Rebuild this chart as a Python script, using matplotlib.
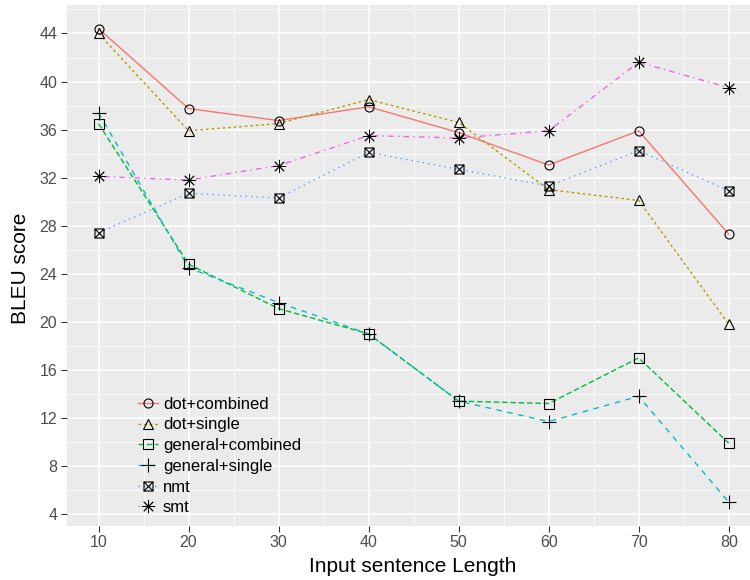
import matplotlib
matplotlib.use("Agg")
import matplotlib.pyplot as plt
from matplotlib.path import Path
import numpy as np

lengths = [10, 20, 30, 40, 50, 60, 70, 80]
dot_combined = [44.4, 37.75, 36.75, 37.9, 35.75, 33.05, 35.9, 27.3]
dot_single = [44.0, 35.9, 36.5, 38.5, 36.6, 31.0, 30.1, 19.8]
general_combined = [36.5, 24.8, 21.1, 19.0, 13.4, 13.2, 17.0, 9.9]
general_single = [37.4, 24.5, 21.6, 19.0, 13.4, 11.7, 13.8, 5.0]
nmt = [27.4, 30.7, 30.3, 34.1, 32.7, 31.3, 34.25, 30.9]
smt = [32.1, 31.8, 33.0, 35.5, 35.3, 35.9, 41.6, 39.5]

series_names = ["dot+combined", "dot+single", "general+combined",
                "general+single", "nmt", "smt"]
y_ticks = [4, 8, 12, 16, 20, 24, 28, 32, 36, 40, 44]

plt.rcParams['font.family'] = ['Liberation Sans', 'DejaVu Sans']

# square with X marker
sqx = Path([(-1, -1), (1, -1), (1, 1), (-1, 1), (-1, -1),
            (-1, -1), (1, 1), (-1, 1), (1, -1)],
           [Path.MOVETO, Path.LINETO, Path.LINETO, Path.LINETO, Path.CLOSEPOLY,
            Path.MOVETO, Path.LINETO, Path.MOVETO, Path.LINETO])

colors = ["#F8766D", "#B79F00", "#00BA38", "#00BFC4", "#619CFF", "#F564E3"]
dashes = [None, (2, 2), (4, 2), (4, 4), (1, 3), (1, 3, 4, 3)]
markers = ['o', '^', 's', '+', sqx, (8, 2, 0)]
msizes = [6.5, 7.5, 6.5, 10, 6.5, 9.5]
mews = [0.8, 0.8, 0.8, 0.8, 0.8, 0.65]
data = [dot_combined, dot_single, general_combined, general_single, nmt, smt]

fig = plt.figure(figsize=(7.5, 5.8), dpi=100)
W, H = 750, 580
left, right, top, bottom = 67, 760.2, 5, 525.7
ax = fig.add_axes([left / W, (H - bottom) / H, (right - left) / W, (bottom - top) / H])
ax.set_facecolor("#EBEBEB")

handles = []
for name, vals, c, d, m, ms, mw in zip(series_names, data, colors, dashes, markers, msizes, mews):
    ln, = ax.plot(lengths, vals, color=c, lw=1.0, zorder=3)
    if d is not None:
        ln.set_dashes(d)
    ax.plot(lengths, vals, linestyle='none', marker=m, markersize=ms,
            markerfacecolor='none', markeredgecolor='black', markeredgewidth=mw, zorder=4)
    h, = ax.plot([], [], color=c, lw=1.0, marker=m, markersize=ms,
                 markerfacecolor='none', markeredgecolor='black', markeredgewidth=mw)
    if d is not None:
        h.set_dashes(d)
    handles.append(h)

ax.set_xlim(6.5, 83.5)
ax.set_ylim(3.03, 46.37)
ax.set_xticks(lengths)
ax.set_yticks(y_ticks)
ax.set_xticks([15, 25, 35, 45, 55, 65, 75], minor=True)
ax.set_yticks([6, 10, 14, 18, 22, 26, 30, 34, 38, 42, 46], minor=True)
ax.grid(which='major', color='white', lw=1.1)
ax.grid(which='minor', color='white', lw=0.55)
ax.set_axisbelow(True)
for s in ax.spines.values():
    s.set_visible(False)
ax.tick_params(which='major', length=4.5, width=0.8, color='#333333',
               labelsize=11.5, labelcolor='#4D4D4D', pad=2.5)
ax.tick_params(which='minor', length=0)

fig.text(413 / W, 1 - 566 / H, "Input sentence Length", ha='center', va='center', fontsize=15)
fig.text(21 / W, 1 - 268 / H, "BLEU score", ha='center', va='center', rotation=90, fontsize=15)

leg = fig.legend(handles, series_names, loc='center left',
                 bbox_to_anchor=(138 / W, 1 - 456 / H), frameon=False,
                 fontsize=12, handlelength=1.2, handletextpad=0.3,
                 labelspacing=0.34, borderpad=0, borderaxespad=0)

fig.savefig("out.png", dpi=100)
